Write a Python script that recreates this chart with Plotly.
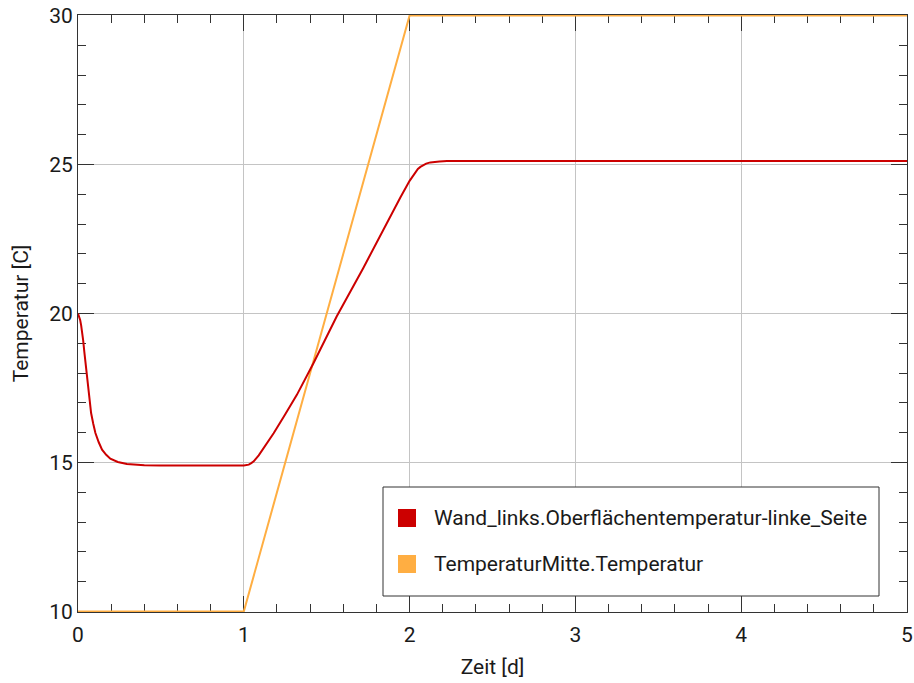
import plotly.graph_objects as go

# ---- data ----
t_wall = [0.0, 0.006, 0.013, 0.019, 0.025, 0.031, 0.038, 0.045, 0.052, 0.059, 0.069, 0.079,
          0.092, 0.105, 0.125, 0.145, 0.17, 0.195, 0.24, 0.295, 0.4, 0.495, 1.0,
          1.015, 1.03, 1.045, 1.06, 1.09, 1.12, 1.18, 1.25, 1.32, 1.42, 1.56, 1.72, 1.86, 1.945,
          2.0, 2.02, 2.035, 2.05, 2.065, 2.08, 2.1, 2.125, 2.15, 2.18, 2.225, 2.3, 2.4,
          3.0, 4.0, 5.0]
T_wall = [20.0, 19.92, 19.78, 19.6, 19.38, 19.11, 18.72, 18.33, 17.93, 17.55, 17.08, 16.66,
          16.3, 15.99, 15.68, 15.43, 15.26, 15.13, 15.02, 14.95, 14.91, 14.9, 14.9,
          14.91, 14.93, 14.98, 15.04, 15.24, 15.48, 15.98, 16.62, 17.27, 18.33, 19.9, 21.52, 23.03, 23.9,
          24.45, 24.62, 24.75, 24.85, 24.92, 24.97, 25.03, 25.07, 25.09, 25.10, 25.12, 25.12, 25.12,
          25.12, 25.12, 25.12]

t_mid = [0.0, 1.0, 2.0, 5.0]
T_mid = [10.0, 10.0, 30.0, 30.0]

name_wall = "Wand_links.Oberflächentemperatur-linke_Seite"
name_mid = "TemperaturMitte.Temperatur"
x_title = "Zeit [d]"
y_title = "Temperatur [C]"

RED = "#cc0000"
ORANGE = "#ffae42"
FONT = "Roboto"
TXT = "#1a1a1a"
FS = 21

W, H = 914, 683
ML, MR, MT, MB = 78, 7, 15, 71
PW, PH = W - ML - MR, H - MT - MB


def px(x):
    return (x - ML) / PW


def py(y):
    return (H - MB - y) / PH


fig = go.Figure()
fig.add_trace(go.Scatter(x=t_mid, y=T_mid, mode="lines", line=dict(color=ORANGE, width=2),
                         name=name_mid, showlegend=False))
fig.add_trace(go.Scatter(x=t_wall, y=T_wall, mode="lines", line=dict(color=RED, width=2),
                         name=name_wall, showlegend=False))

axis_common = dict(
    showline=True, linecolor="#333333", linewidth=1, mirror="ticks",
    ticks="inside", ticklen=16, tickwidth=1, tickcolor="#333333",
    showgrid=True, gridcolor="#c4c4c4", gridwidth=1, zeroline=False,
    automargin=False, ticklabeloverflow="allow", layer="below traces",
    tickfont=dict(family=FONT, size=FS, color=TXT),
)

fig.update_xaxes(range=[0, 5], dtick=1, tick0=0, ticklabelstandoff=4,
                 minor=dict(ticks="inside", ticklen=8, dtick=0.2, tickcolor="#333333", showgrid=False),
                 title=dict(text=x_title, font=dict(family=FONT, size=FS, color=TXT), standoff=13),
                 **axis_common)
fig.update_yaxes(range=[9.985, 30.015], dtick=5, tick0=10,
                 minor=dict(ticks="inside", ticklen=8, dtick=1, tickcolor="#333333", showgrid=False),
                 title=dict(text=y_title, font=dict(family=FONT, size=FS, color=TXT), standoff=14),
                 **axis_common)

# legend box drawn in paper coordinates
shapes = [
    dict(type="rect", xref="paper", yref="paper", x0=px(383), x1=px(879), y0=py(596), y1=py(487),
         line=dict(color="#333333", width=1), fillcolor="white", layer="above"),
    dict(type="rect", xref="paper", yref="paper", x0=px(398), x1=px(416), y0=py(527), y1=py(509),
         line=dict(width=0), fillcolor=RED, layer="above"),
    dict(type="rect", xref="paper", yref="paper", x0=px(398), x1=px(416), y0=py(573), y1=py(555),
         line=dict(width=0), fillcolor=ORANGE, layer="above"),
]
annotations = [
    dict(text=name_wall, xref="paper", yref="paper", x=px(432), y=py(518), xanchor="left",
         yanchor="middle", showarrow=False, font=dict(family=FONT, size=FS, color=TXT)),
    dict(text=name_mid, xref="paper", yref="paper", x=px(432), y=py(564), xanchor="left",
         yanchor="middle", showarrow=False, font=dict(family=FONT, size=FS, color=TXT)),
]

fig.update_layout(
    width=W, height=H,
    margin=dict(l=ML, r=MR, t=MT, b=MB),
    plot_bgcolor="white", paper_bgcolor="white",
    font=dict(family=FONT, size=FS, color=TXT),
    showlegend=False,
    shapes=shapes, annotations=annotations,
)

fig.write_html(
    "out.html",
    config={"displayModeBar": False},
    post_script="document.body.style.margin='0px';"
                "document.body.style.overflow='hidden';"
                "document.documentElement.style.overflow='hidden';",
)
